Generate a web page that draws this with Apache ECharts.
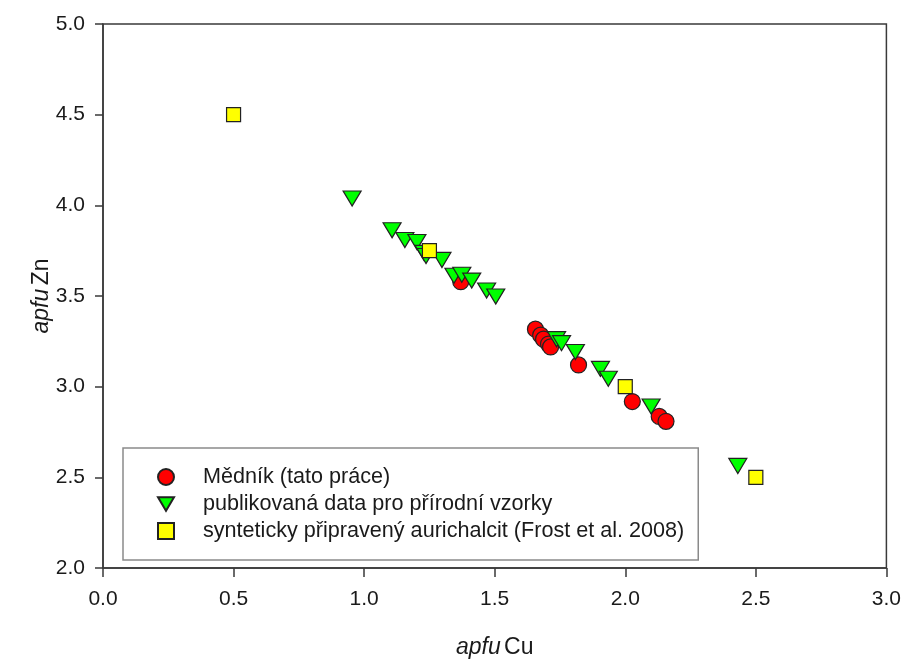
<!DOCTYPE html>
<html><head><meta charset="utf-8">
<script src="https://cdn.jsdelivr.net/npm/echarts@6/dist/echarts.min.js"></script>
<style>html,body{margin:0;padding:0;background:#fff}#c{width:904px;height:664px}</style>
</head><body><div id="c"></div>
<script>
const seriesNames = ['Mědník (tato práce)', 'publikovaná data pro přírodní vzorky', 'synteticky připravený aurichalcit (Frost et al. 2008)'];
const mednik = [[1.370,3.579],[1.656,3.317],[1.676,3.284],[1.687,3.262],[1.706,3.235],[1.714,3.219],[1.821,3.120],[2.027,2.918],[2.130,2.836],[2.156,2.809]];
const publikovana = [[0.954,4.038],[1.107,3.863],[1.156,3.809],[1.202,3.798],[1.229,3.738],[1.237,3.721],[1.298,3.699],[1.344,3.612],[1.374,3.617],[1.412,3.585],[1.469,3.530],[1.504,3.497],[1.737,3.262],[1.756,3.240],[1.809,3.191],[1.905,3.098],[1.935,3.044],[2.099,2.891],[2.431,2.563]];
const synteticky = [[0.5,4.5],[1.25,3.75],[2.0,3.0],[2.5,2.5]];
const xTicks = {min:0, max:3, interval:0.5};
const yTicks = {min:2, max:5, interval:0.5};

const chart = echarts.init(document.getElementById('c'));
const font = 'Liberation Sans, Arial, sans-serif';
const axisCol = '#3a3a3a';
const txt = '#1a1a1a';
const titleRich = {i:{fontStyle:'italic', fontSize:23, fontFamily:font, color:txt}, n:{fontSize:23, fontFamily:font, color:txt}};
chart.setOption({
  animation:false,
  grid:{left:103, right:15, top:24, bottom:91, show:true, borderColor:axisCol, borderWidth:1.5},
  xAxis:{type:'value', min:xTicks.min, max:xTicks.max, interval:xTicks.interval,
    axisLine:{lineStyle:{color:axisCol, width:1.5}}, axisTick:{show:true, length:9, lineStyle:{color:axisCol, width:1.5}},
    splitLine:{show:false},
    axisLabel:{margin:21, fontSize:21, color:txt, fontFamily:font, formatter:v=>v.toFixed(1)},
    name:'{i|apfu} {n|Cu}', nameLocation:'middle', nameGap:68, nameMoveOverlap:false,
    nameTextStyle:{rich:titleRich}},
  yAxis:{type:'value', min:yTicks.min, max:yTicks.max, interval:yTicks.interval,
    axisLine:{show:true, lineStyle:{color:axisCol, width:1.5}}, axisTick:{show:true, length:8, lineStyle:{color:axisCol, width:1.5}},
    splitLine:{show:false},
    axisLabel:{margin:18, fontSize:21, color:txt, fontFamily:font, formatter:v=>v.toFixed(1)},
    name:'{i|apfu} {n|Zn}', nameLocation:'middle', nameGap:50, nameMoveOverlap:false,
    nameTextStyle:{rich:titleRich}},
  legend:{orient:'vertical', left:123, top:448, padding:[18,14,18,34], itemGap:5,
    itemWidth:16, itemHeight:16, borderColor:'#8a8a8a', borderWidth:1.5, backgroundColor:'#fff',
    textStyle:{fontSize:21.6, lineHeight:21, color:txt, fontFamily:font, padding:[0,0,0,24]},
    data:[
      {name:seriesNames[0], icon:'circle'},
      {name:seriesNames[1], icon:'path://M0,0 L20,0 L10,17 Z'},
      {name:seriesNames[2], icon:'rect'}
    ]},
  series:[
    {name:seriesNames[0], type:'scatter', data:mednik, symbol:'circle', symbolSize:16,
      itemStyle:{color:'#ff0000', borderColor:'#222', borderWidth:1.2, opacity:1}, z:2},
    {name:seriesNames[1], type:'scatter', data:publikovana, symbol:'triangle', symbolRotate:180, symbolSize:[18,15],
      itemStyle:{color:'#00ff00', borderColor:'#222', borderWidth:1.2, opacity:1}, z:3},
    {name:seriesNames[2], type:'scatter', data:synteticky, symbol:'rect', symbolSize:14,
      itemStyle:{color:'#ffff00', borderColor:'#222', borderWidth:1.2, opacity:1}, z:4}
  ]
});
</script></body></html>
